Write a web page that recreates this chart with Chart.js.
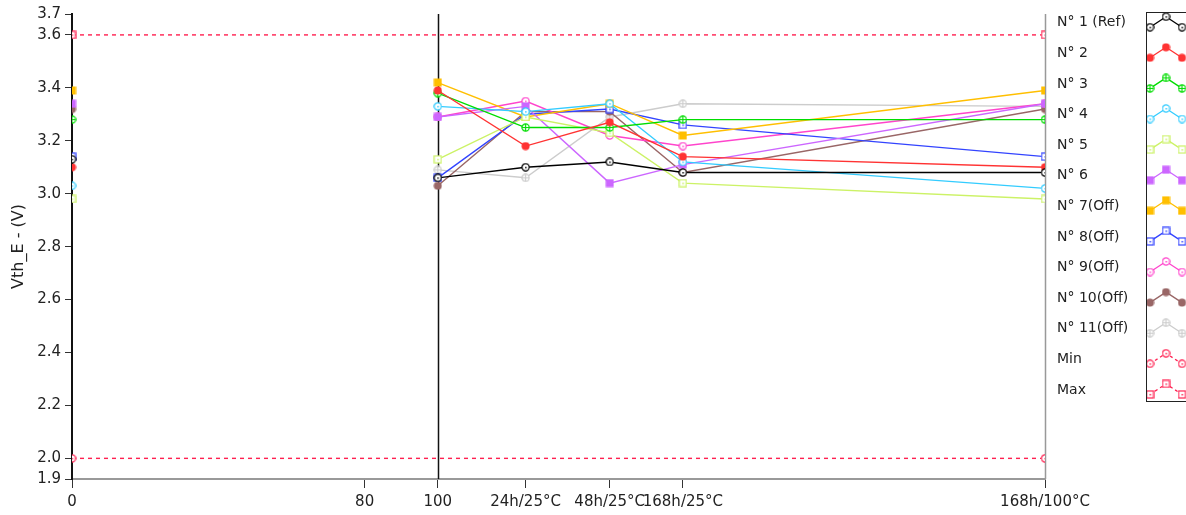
<!DOCTYPE html>
<html>
<head>
<meta charset="utf-8">
<script src="https://cdn.jsdelivr.net/npm/chart.js@4/dist/chart.umd.min.js"></script>
<style>
  html, body { margin: 0; padding: 0; background: #fff; }
  #wrap { width: 1186px; height: 515px; }
</style>
</head>
<body>
<div id="wrap"><canvas id="vthChart" width="1186" height="515"></canvas></div>
<script>
// x positions of the measurement steps and the axis tick labels
const tickValues = [0, 80, 100, 124, 147, 167, 266];
const tickLabels = ['0', '80', '100', '24h/25°C', '48h/25°C', '168h/25°C', '168h/100°C'];
const stepX = [0, 100, 124, 147, 167, 266];

// y axis ticks (ends of the scale are shown rounded, like the original)
const yMin = 1.922;
const yMax = 3.679;
const yTicks = [yMin, 2.0, 2.2, 2.4, 2.6, 2.8, 3.0, 3.2, 3.4, 3.6, yMax];

const seriesNames = ['N° 1 (Ref)', 'N° 2', 'N° 3', 'N° 4', 'N° 5', 'N° 6', 'N° 7(Off)',
  'N° 8(Off)', 'N° 9(Off)', 'N° 10(Off)', 'N° 11(Off)', 'Min', 'Max'];

// Vth_E values per sample (one per step in stepX)
const n1 = [3.13, 3.06, 3.10, 3.12, 3.08, 3.08];
const n2 = [3.10, 3.39, 3.18, 3.27, 3.14, 3.10];
const n3 = [3.28, 3.38, 3.25, 3.25, 3.28, 3.28];
const n4 = [3.03, 3.33, 3.31, 3.34, 3.12, 3.02];
const n5 = [2.98, 3.13, 3.29, 3.23, 3.04, 2.98];
const n6 = [3.34, 3.29, 3.33, 3.04, 3.11, 3.34];
const n7 = [3.39, 3.42, 3.29, 3.34, 3.22, 3.39];
const n8 = [3.14, 3.06, 3.30, 3.32, 3.26, 3.14];
const n9 = [null, 3.29, 3.35, 3.22, 3.18, 3.34];
const n10 = [3.32, 3.03, 3.31, 3.31, 3.08, 3.32];
const n11 = [null, 3.09, 3.06, 3.29, 3.34, 3.33];
const minLimit = [2.0, 2.0];
const maxLimit = [3.6, 3.6];

const colors = ['#000000', '#ff3333', '#00dd00', '#33ccff', '#ccf266', '#cc66ff', '#ffbf00',
  '#3344ff', '#ff44cc', '#996666', '#cccccc', '#ff2050', '#ff2050'];
const markers = ['circleOpen', 'circleFilled', 'circleCross', 'circleOpen', 'squareOpen', 'squareFilled',
  'squareFilled', 'squareOpen', 'circleOpen', 'circleFilled', 'circleCross', 'circleOpen', 'squareOpen'];

// small canvas markers, closer to the LabVIEW look than the stock point styles
function makeMarker(type, color) {
  const c = document.createElement('canvas');
  c.width = 9; c.height = 9;
  const g = c.getContext('2d');
  g.strokeStyle = color; g.fillStyle = color; g.lineWidth = 1.2;
  if (type === 'circleFilled') {
    g.beginPath(); g.arc(4.5, 4.5, 4, 0, Math.PI * 2); g.fill();
  } else if (type === 'squareFilled') {
    g.fillRect(0.5, 0.5, 8, 8);
  } else if (type === 'squareOpen') {
    g.fillStyle = '#fff'; g.fillRect(1, 1, 7, 7);
    g.strokeRect(1, 1, 7, 7);
    g.fillStyle = color; g.fillRect(4, 4, 1.5, 1.5);
  } else {
    g.fillStyle = '#fff';
    g.beginPath(); g.arc(4.5, 4.5, 3.6, 0, Math.PI * 2); g.fill(); g.stroke();
    g.fillStyle = color;
    if (type === 'circleCross') {
      g.beginPath(); g.moveTo(1, 4.5); g.lineTo(8, 4.5); g.moveTo(4.5, 1); g.lineTo(4.5, 8); g.stroke();
    } else {
      g.fillRect(4, 4, 1.5, 1.5);
    }
  }
  return c;
}
const markerImgs = markers.map((m, i) => makeMarker(m, colors[i]));

const allValues = [n1, n2, n3, n4, n5, n6, n7, n8, n9, n10, n11];
const datasets = allValues.map((vals, i) => ({
  label: seriesNames[i],
  data: vals.map((v, k) => ({ x: stepX[k], y: v })),
  borderColor: colors[i],
  borderWidth: 1.4,
  pointStyle: markerImgs[i],
  pointRadius: 4,
  tension: 0,
  spanGaps: false,
  // no line between the first reading (0) and the 100 step
  segment: { borderColor: ctx => ctx.p0.parsed.x === stepX[0] ? 'rgba(0,0,0,0)' : undefined }
}));
[minLimit, maxLimit].forEach((vals, j) => {
  const i = 11 + j;
  datasets.push({
    label: seriesNames[i],
    data: vals.map((v, k) => ({ x: k === 0 ? stepX[0] : stepX[stepX.length - 1], y: v })),
    borderColor: colors[i],
    borderWidth: 1.4,
    borderDash: [4, 4],
    pointStyle: markerImgs[i],
    pointRadius: 4
  });
});

const fontFamily = '"DejaVu Sans", Verdana, sans-serif';

// vertical divider at 100, right frame and the LabVIEW-like legend
const extras = {
  id: 'extras',
  beforeDatasetsDraw(chart) {
    const { ctx, chartArea, scales } = chart;
    const x100 = Math.round(scales.x.getPixelForValue(100)) + 0.5;
    ctx.save();
    ctx.strokeStyle = '#111';
    ctx.lineWidth = 1.5;
    ctx.beginPath(); ctx.moveTo(x100, chartArea.top); ctx.lineTo(x100, chartArea.bottom); ctx.stroke();
    ctx.strokeStyle = '#999';
    ctx.beginPath(); ctx.moveTo(chartArea.right + 0.5, chartArea.top); ctx.lineTo(chartArea.right + 0.5, chartArea.bottom); ctx.stroke();
    ctx.restore();
  },
  afterDraw(chart) {
    const { ctx } = chart;
    ctx.save();
    ctx.font = '14px ' + fontFamily;
    ctx.textBaseline = 'middle';
    ctx.fillStyle = '#222';
    const top = 22.7, step = 30.6;
    seriesNames.forEach((name, i) => {
      const cy = top + i * step;
      ctx.fillText(name, 1057, cy);
      const pts = [[1150, cy + 4.5], [1166, cy - 6], [1182, cy + 4.5]];
      ctx.strokeStyle = colors[i];
      ctx.lineWidth = 1.3;
      ctx.setLineDash(i >= 11 ? [3, 3] : []);
      ctx.beginPath();
      pts.forEach((p, k) => k ? ctx.lineTo(p[0], p[1]) : ctx.moveTo(p[0], p[1]));
      ctx.stroke();
      pts.forEach(p => ctx.drawImage(markerImgs[i], p[0] - 4.5, p[1] - 4.5));
    });
    ctx.setLineDash([]);
    ctx.strokeStyle = '#222';
    ctx.lineWidth = 1;
    ctx.strokeRect(1146.5, 12.5, 80, 389);
    ctx.restore();
  }
};

const ctx = document.getElementById('vthChart').getContext('2d');
const vthChart = new Chart(ctx, {
  type: 'line',
  data: { datasets: datasets },
  plugins: [extras],
  options: {
    responsive: false,
    animation: false,
    devicePixelRatio: 1,
    layout: { padding: { top: 14, right: 141, left: 0, bottom: 0 } },
    plugins: { legend: { display: false }, tooltip: { enabled: false } },
    scales: {
      x: {
        type: 'linear',
        min: tickValues[0],
        max: tickValues[tickValues.length - 1],
        afterBuildTicks: scale => { scale.ticks = tickValues.map(v => ({ value: v })); },
        afterFit: scale => { scale.height = 36; },
        border: { color: '#999', width: 2 },
        grid: { drawOnChartArea: false, drawTicks: true, tickLength: 9, color: '#333' },
        ticks: {
          autoSkip: false,
          maxRotation: 0,
          padding: 5,
          color: '#222',
          font: { family: fontFamily, size: 15 },
          callback: v => tickLabels[tickValues.indexOf(v)]
        }
      },
      y: {
        min: yMin,
        max: yMax,
        afterBuildTicks: scale => { scale.ticks = yTicks.map(v => ({ value: v })); },
        afterFit: scale => { scale.width = 72; },
        border: { color: '#111', width: 2 },
        grid: { drawOnChartArea: false, drawTicks: true, tickLength: 7, color: '#333' },
        title: {
          display: true,
          text: 'Vth_E - (V)',
          color: '#222',
          font: { family: fontFamily, size: 16 },
          padding: { top: 9, bottom: 0 }
        },
        ticks: {
          padding: 4,
          color: '#222',
          font: { family: fontFamily, size: 15 },
          callback: v => v.toFixed(1)
        }
      }
    }
  }
});
</script>
</body>
</html>
